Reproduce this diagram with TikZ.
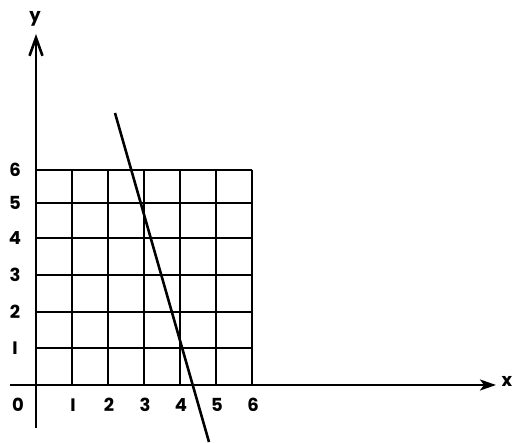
\documentclass[tikz,border=0pt]{standalone}
\usepackage{fontspec}
\setmainfont{Poppins}
\usetikzlibrary{arrows.meta}
\tikzset{
  axis/.style={line width=2.6pt},
  xarrow/.style={-{Stealth[length=16pt,width=11pt,inset=4pt]}},
  yarrow/.style={-{Straight Barb[length=18pt,width=13pt]}},
  gridline/.style={line width=1.6pt},
  mainline/.style={line width=2.6pt},
  lbl/.style={font=\fontsize{18}{18}\selectfont\bfseries, inner sep=0pt}
}
\begin{document}
\begin{tikzpicture}[x=1pt,y=-1pt]
\useasboundingbox (0,0) rectangle (512,443);
% grid
\foreach \i in {1,...,6} {
  \draw[gridline] ({36+36*\i},170) -- ({36+36*\i},385);
}
\foreach \y in {170,203,238,275,312,348} {
  \draw[gridline] (36,\y) -- (252,\y);
}
% axes
\coordinate (xs) at (10,385);
\coordinate (xe) at (496,385);
\coordinate (ys) at (36,428);
\coordinate (ye) at (36,34);
\draw[axis,xarrow] (xs) -- (xe);
\draw[axis,yarrow] (ys) -- (ye);
\node[lbl] (xl) at (507,381) {x};
\node[lbl] (yl) at (35,19) {y};
% labels
\node[lbl] (o) at (18,405) {0};
\foreach \i/\t in {1/I,2/2,3/3,4/4,5/5,6/6} {
  \node[lbl] (x\i) at ({37+36*\i},405) {\t};
}
\foreach \y/\t in {170/6,203/5,238/4,275/3,312/2,348/I} {
  \node[lbl] (y\t) at (15,\y) {\t};
}
% line
\coordinate (la) at (115,113);
\coordinate (lb) at (209,442);
\draw[mainline] (la) -- (lb);
\end{tikzpicture}
\end{document}
